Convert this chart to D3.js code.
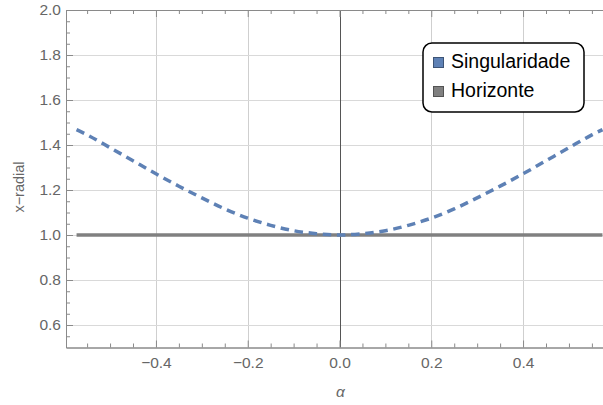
<!DOCTYPE html>
<html>
<head>
<meta charset="utf-8">
<script src="https://cdn.jsdelivr.net/npm/d3@7"></script>
<style>
  html, body { margin: 0; padding: 0; background: #fff; }
  svg { display: block; font-family: "Liberation Sans", Arial, sans-serif; }
</style>
</head>
<body>
<svg id="chart" width="603" height="405"></svg>
<script>
// Singularity position (dashed) and horizon (solid) versus alpha
const alphaValues = [-0.573, -0.55, -0.50, -0.45, -0.40, -0.35, -0.30, -0.25, -0.20, -0.15, -0.10, -0.05, 0.00,
                      0.05, 0.10, 0.15, 0.20, 0.25, 0.30, 0.35, 0.40, 0.45, 0.50, 0.55, 0.573];
const singularidade = [1.468, 1.445, 1.388, 1.330, 1.272, 1.217, 1.165, 1.116, 1.075, 1.043, 1.019, 1.006, 1.000,
                       1.006, 1.019, 1.043, 1.075, 1.116, 1.165, 1.217, 1.272, 1.330, 1.388, 1.445, 1.468];
const horizonteAlpha = [-0.573, 0.573];
const horizonte = [1.0, 1.0];

const xTicks = [-0.4, -0.2, 0.0, 0.2, 0.4];
const yTicks = [0.6, 0.8, 1.0, 1.2, 1.4, 1.6, 1.8, 2.0];
const xMinorTicks = [-0.55, -0.5, -0.45, -0.35, -0.3, -0.25, -0.15, -0.1, -0.05, 0.05, 0.1, 0.15, 0.25, 0.3, 0.35, 0.45, 0.5, 0.55];
const yMinorTicks = [0.55, 0.65, 0.7, 0.75, 0.85, 0.9, 0.95, 1.05, 1.1, 1.15, 1.25, 1.3, 1.35, 1.45, 1.5, 1.55, 1.65, 1.7, 1.75, 1.85, 1.9, 1.95];
const legendLabels = ["Singularidade", "Horizonte"];
const seriesColors = ["#5E81B5", "#808080"];

const svg = d3.select("#chart");
const frameL = 66, frameR = 613, frameT = 10, frameB = 347.5;

const x = d3.scaleLinear().domain([-0.596, 0.596]).range([frameL, frameR]);
const y = d3.scaleLinear().domain([0.5, 2.0]).range([frameB, frameT]);

const fmt = d => d3.format(".1f")(d).replace("-", "\u2212");

// grid lines
const grid = svg.append("g");
grid.selectAll("line.gx").data(xTicks.filter(d => d !== 0)).join("line")
  .attr("x1", d => Math.round(x(d)) + 0.5).attr("x2", d => Math.round(x(d)) + 0.5)
  .attr("y1", frameT).attr("y2", frameB)
  .attr("stroke", "#cfcfcf").attr("stroke-width", 1);
grid.selectAll("line.gy").data(yTicks.filter(d => d !== 2.0)).join("line")
  .attr("x1", frameL).attr("x2", 603)
  .attr("y1", d => Math.round(y(d)) + 0.5).attr("y2", d => Math.round(y(d)) + 0.5)
  .attr("stroke", "#d9d9d9").attr("stroke-width", 1);

// vertical axis at alpha = 0
svg.append("line")
  .attr("x1", Math.round(x(0)) + 0.5).attr("x2", Math.round(x(0)) + 0.5)
  .attr("y1", frameT).attr("y2", frameB)
  .attr("stroke", "#555").attr("stroke-width", 1);

// frame axes
function styleAxis(g) {
  g.select(".domain").attr("stroke", "#8a8a8a");
  g.selectAll(".tick line").attr("stroke", "#8a8a8a");
  g.selectAll(".tick text").attr("fill", "#666").style("font-size", "15.5px")
    .style("font-family", "'Liberation Sans', Arial, sans-serif");
}

svg.append("g").attr("transform", `translate(${frameL},0)`)
  .call(d3.axisLeft(y).tickValues(yTicks).tickSizeInner(-7).tickSizeOuter(0).tickPadding(5).tickFormat(fmt))
  .call(styleAxis);
svg.append("g").attr("transform", `translate(${frameL},0)`)
  .call(d3.axisLeft(y).tickValues(yMinorTicks).tickSizeInner(-4).tickSizeOuter(0).tickFormat(""))
  .call(styleAxis);

svg.append("g").attr("transform", `translate(0,${frameB})`)
  .call(d3.axisBottom(x).tickValues(xTicks).tickSizeInner(-7).tickSizeOuter(0).tickPadding(9).tickFormat(fmt))
  .call(styleAxis);
svg.append("g").attr("transform", `translate(0,${frameB})`)
  .call(d3.axisBottom(x).tickValues(xMinorTicks).tickSizeInner(-4).tickSizeOuter(0).tickFormat(""))
  .call(styleAxis);

svg.append("g").attr("transform", `translate(0,${frameT})`)
  .call(d3.axisTop(x).tickValues(xTicks).tickSizeInner(-7).tickSizeOuter(0).tickFormat(""))
  .call(styleAxis);
svg.append("g").attr("transform", `translate(0,${frameT})`)
  .call(d3.axisTop(x).tickValues(xMinorTicks).tickSizeInner(-4).tickSizeOuter(0).tickFormat(""))
  .call(styleAxis);

svg.append("g").attr("transform", `translate(${frameR},0)`)
  .call(d3.axisRight(y).tickValues(yTicks).tickSizeInner(-7).tickSizeOuter(0).tickFormat(""))
  .call(styleAxis);

// axis titles
svg.append("text")
  .attr("transform", `translate(24,187) rotate(-90)`)
  .attr("text-anchor", "middle")
  .attr("fill", "#666").style("font-size", "14.5px")
  .text("x\u2212radial");
svg.append("text")
  .attr("x", x(0) + 1).attr("y", 397)
  .attr("text-anchor", "middle")
  .attr("fill", "#666").style("font-size", "15.5px").style("font-style", "italic")
  .text("\u03b1");

// series
const plot = svg.append("g");
const line = d3.line().x(d => x(d[0])).y(d => y(d[1])).curve(d3.curveMonotoneX);

plot.append("path")
  .datum(horizonteAlpha.map((a, i) => [a, horizonte[i]]))
  .attr("d", line)
  .attr("fill", "none").attr("stroke", seriesColors[1]).attr("stroke-width", 3.5);

plot.append("path")
  .datum(alphaValues.map((a, i) => [a, singularidade[i]]))
  .attr("d", line)
  .attr("fill", "none").attr("stroke", seriesColors[0]).attr("stroke-width", 3.5)
  .attr("stroke-dasharray", "8.5,5.7");

// legend
const lg = svg.append("g").attr("transform", "translate(423,43)");
lg.append("rect")
  .attr("width", 161).attr("height", 69).attr("rx", 9).attr("ry", 9)
  .attr("fill", "#fff").attr("stroke", "#000").attr("stroke-width", 1.5);
const items = lg.selectAll("g.item").data(legendLabels).join("g")
  .attr("transform", (d, i) => `translate(0,${i * 29})`);
items.append("rect")
  .attr("x", 10.5).attr("y", 14.5).attr("width", 10).attr("height", 10)
  .attr("fill", (d, i) => seriesColors[i])
  .attr("stroke", (d, i) => d3.color(seriesColors[i]).darker(1.2)).attr("stroke-width", 1);
items.append("text")
  .attr("x", 28).attr("y", 25)
  .attr("fill", "#000").style("font-size", "19.5px")
  .text(d => d);
</script>
</body>
</html>
